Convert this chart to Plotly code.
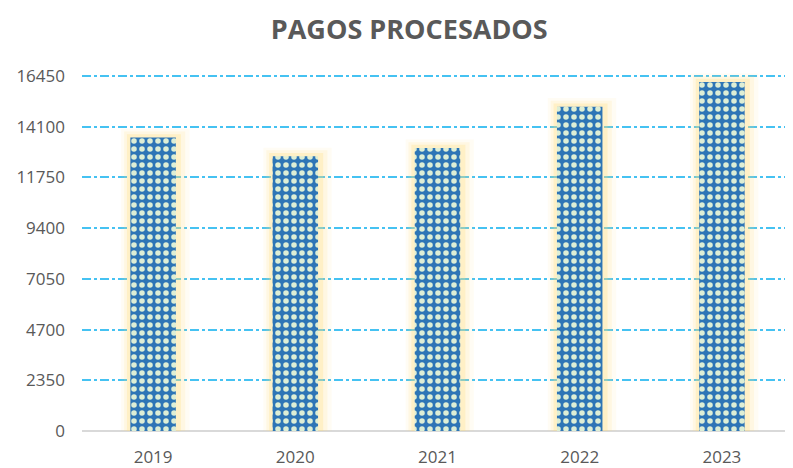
import plotly.graph_objects as go

# Datos
anios = ['2019', '2020', '2021', '2022', '2023']
pagos = [13600, 12730, 13110, 15030, 16170]
ticks_y = [0, 2350, 4700, 7050, 9400, 11750, 14100, 16450]

fig = go.Figure()

# Resplandor amarillo detrás de cada barra (capas cada vez más estrechas)
for extra, alpha in [(0.16, 0.08), (0.11, 0.14), (0.06, 0.26)]:
    fig.add_trace(go.Bar(
        x=anios, y=[p + extra * 2500 for p in pagos], width=0.32 + extra, offset=-0.16 - extra * 0.4,
        marker=dict(color='rgba(255,220,120,%s)' % alpha, line=dict(width=0)),
        hoverinfo='skip', showlegend=False))

# Barras principales con trama de cuadros
fig.add_trace(go.Bar(
    x=anios, y=pagos, width=0.32,
    marker=dict(color='#2E75B6', line=dict(width=0),
                pattern=dict(shape='.', fgcolor='#DDEED5', bgcolor='#2E75B6',
                             size=8, solidity=0.38, fillmode='replace')),
    showlegend=False))

# La página añade 8 px de margen al cuerpo, se compensa aquí
fig.update_layout(
    barmode='overlay',
    width=793, height=468,
    margin=dict(l=73, r=8, t=65, b=43),
    paper_bgcolor='white', plot_bgcolor='white',
    title=dict(text='<b>PAGOS PROCESADOS</b>', x=0.506, xanchor='center', y=0.955, yanchor='middle',
               font=dict(family='Open Sans', size=27, color='#595959')),
    font=dict(family='Open Sans', size=17, color='#595959'),
)

fig.update_xaxes(showgrid=False, showline=False, ticks='', ticklabelstandoff=14,
                 tickfont=dict(size=17, color='#595959'))
fig.update_yaxes(range=[0, 2350 * 360 / 51], tickvals=ticks_y, ticktext=[str(t) for t in ticks_y],
                 showgrid=True, gridcolor='#45C2F2', griddash='dashdot', gridwidth=1.5,
                 zeroline=True, zerolinecolor='#D9D9D9', zerolinewidth=2,
                 ticks='', ticklabelstandoff=16, tickfont=dict(size=17, color='#595959'))

fig.write_html('out.html')
